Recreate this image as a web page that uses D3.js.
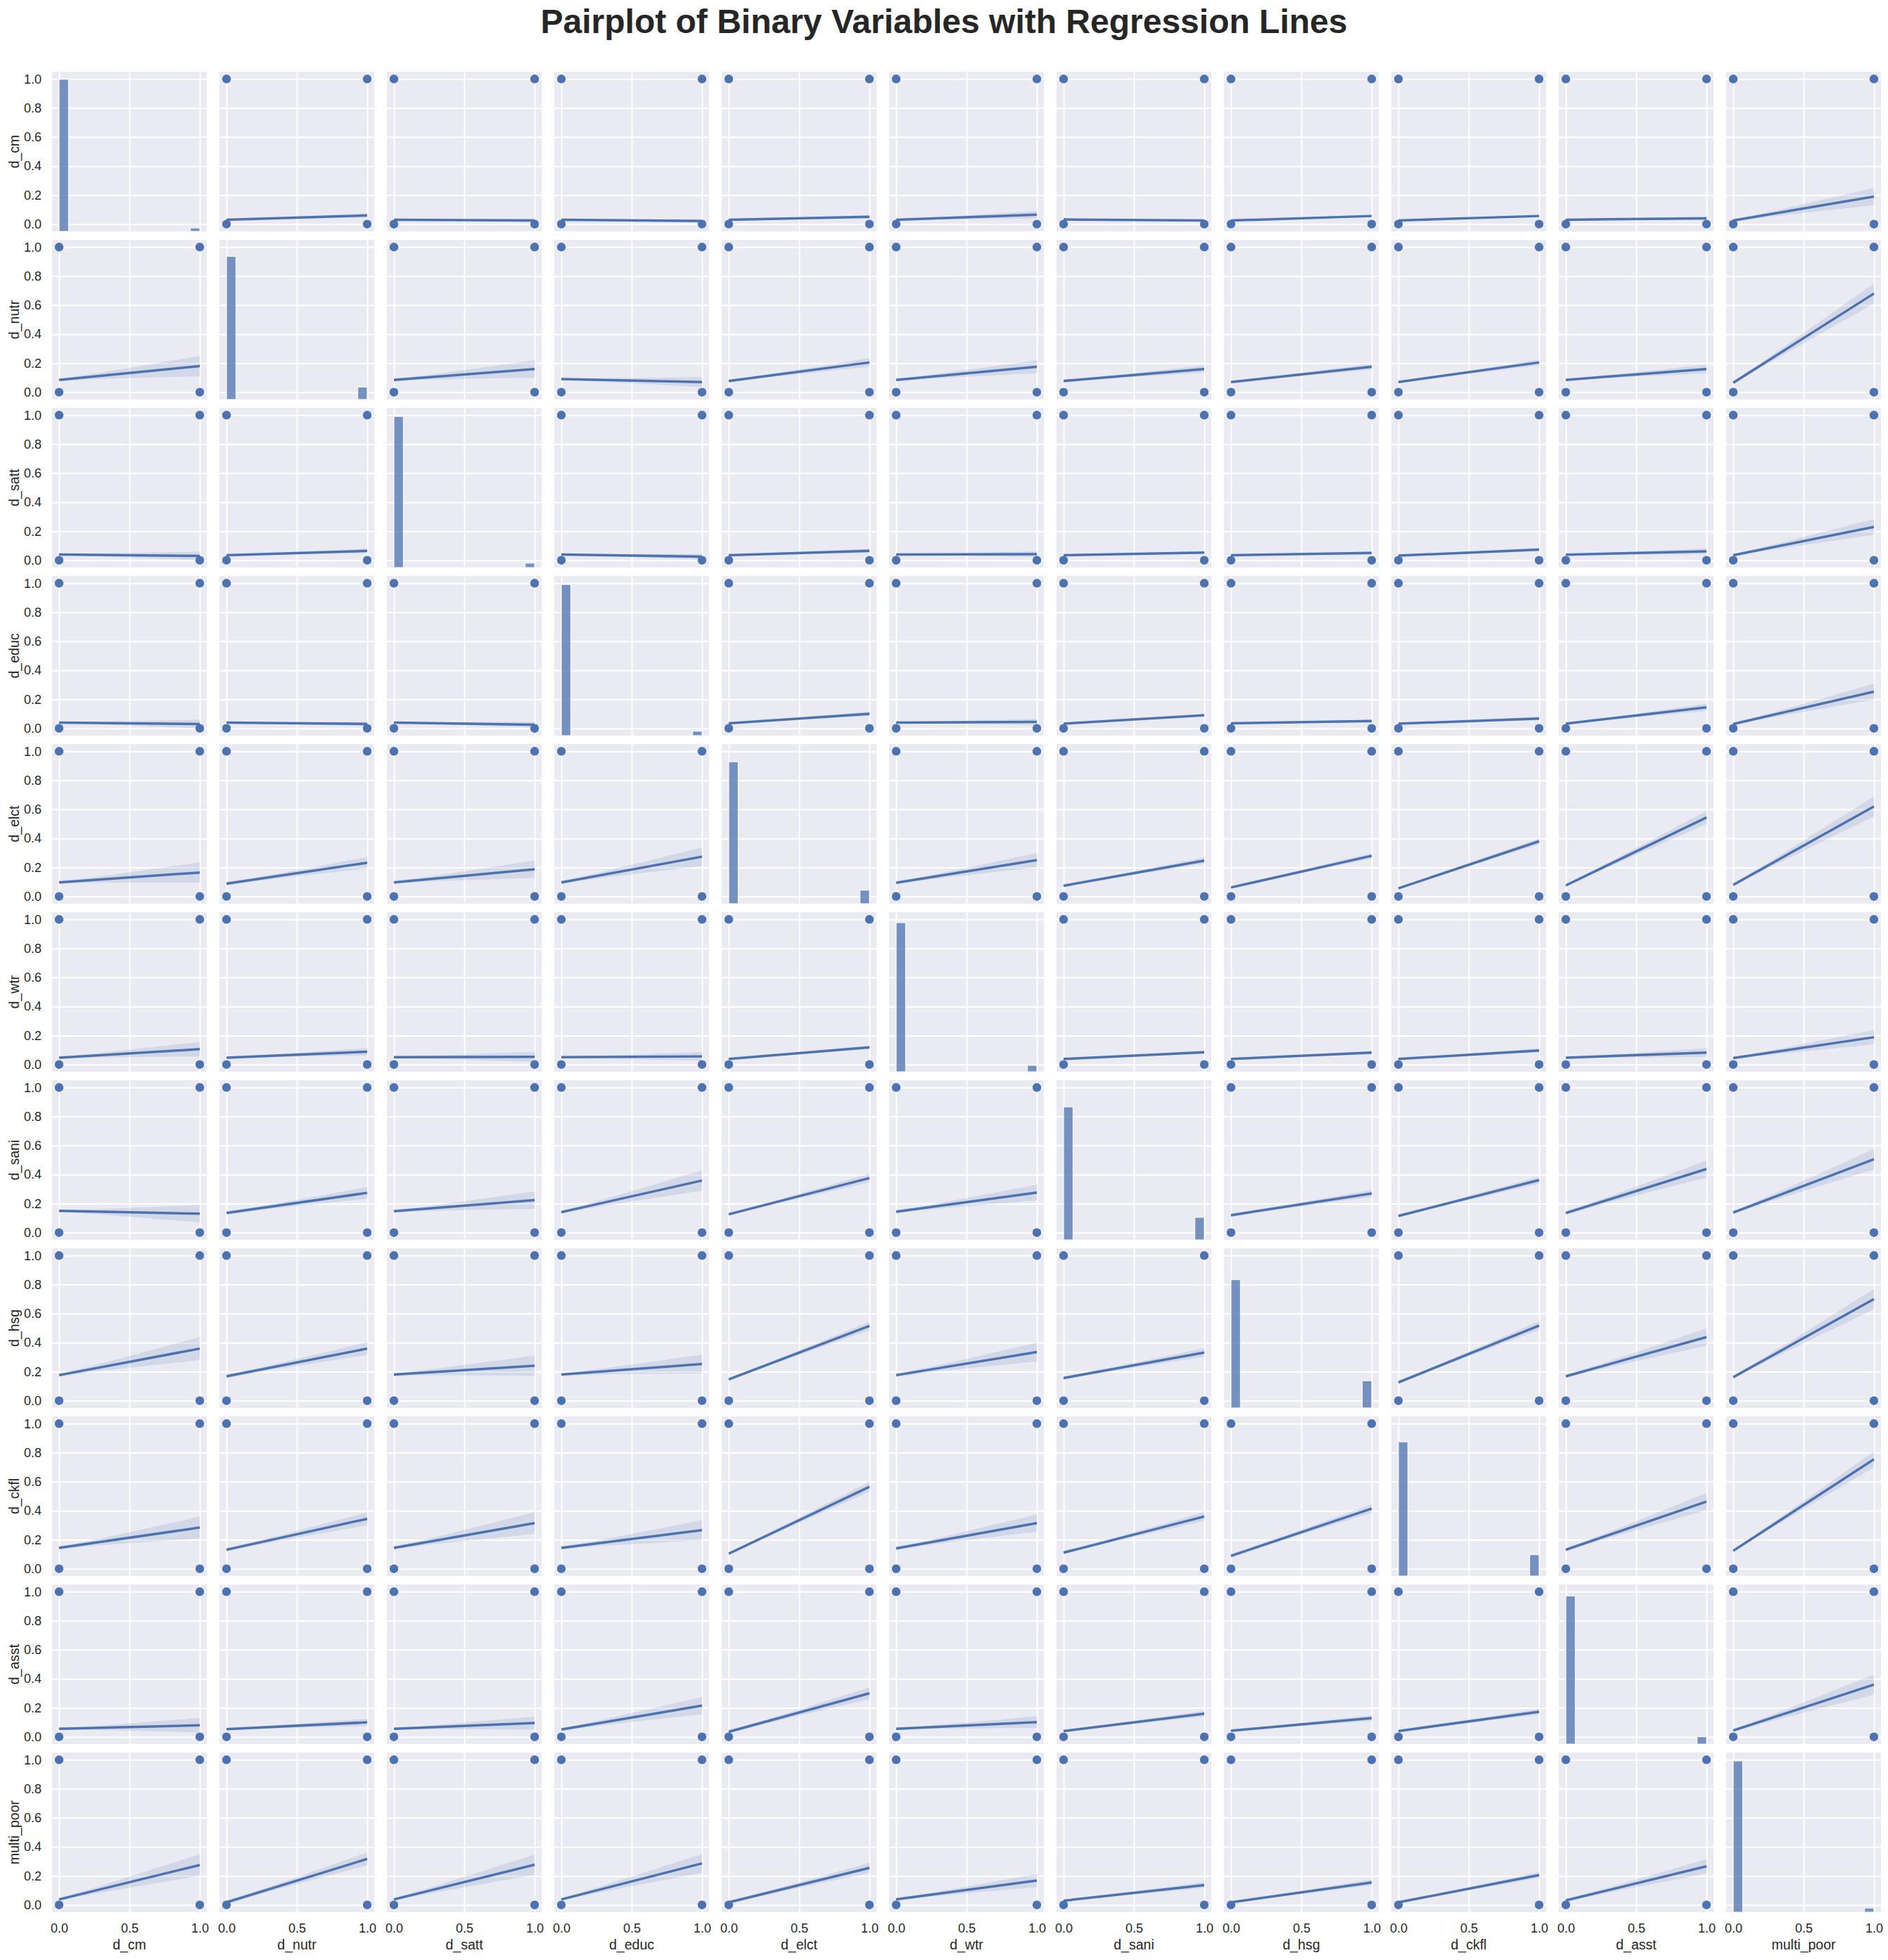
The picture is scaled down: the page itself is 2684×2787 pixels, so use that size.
<!DOCTYPE html>
<html>
<head>
<meta charset="utf-8">
<script src="https://cdn.jsdelivr.net/npm/d3@7"></script>
<style>
  html, body { margin: 0; padding: 0; background: #ffffff; }
  svg { display: block; }
  text { font-family: "Liberation Sans", Arial, "Helvetica", sans-serif; fill: #262626; }
</style>
</head>
<body>
<svg id="chart" width="2684" height="2787"></svg>
<script>
// ---------------- data ----------------
const variables = ["d_cm","d_nutr","d_satt","d_educ","d_elct","d_wtr","d_sani","d_hsg","d_ckfl","d_asst","multi_poor"];
// share of observations equal to 1 (diagonal histograms)
const shareOnes = [0.022, 0.080, 0.028, 0.028, 0.087, 0.041, 0.145, 0.175, 0.137, 0.047, 0.027];
const xTickValues = [0, 0.5, 1.0];
const yTickValues = [0, 0.2, 0.4, 0.6, 0.8, 1.0];
const histBins = 15;
const titleText = "Pairplot of Binary Variables with Regression Lines";

// regression line: fitted value at x = 0 (rows = y variable, columns = x variable)
const fitAtZero = [
  [null, 0.030, 0.030, 0.030, 0.030, 0.030, 0.032, 0.025, 0.025, 0.030, 0.025],
  [0.085, null, 0.085, 0.090, 0.077, 0.085, 0.077, 0.070, 0.070, 0.085, 0.065],
  [0.040, 0.035, null, 0.040, 0.035, 0.040, 0.035, 0.035, 0.032, 0.038, 0.035],
  [0.040, 0.040, 0.040, null, 0.035, 0.040, 0.032, 0.035, 0.032, 0.032, 0.030],
  [0.097, 0.088, 0.097, 0.097, null, 0.094, 0.074, 0.062, 0.056, 0.076, 0.080],
  [0.047, 0.047, 0.050, 0.050, 0.038, null, 0.038, 0.038, 0.038, 0.047, 0.044],
  [0.150, 0.135, 0.147, 0.141, 0.126, 0.144, null, 0.120, 0.115, 0.135, 0.138],
  [0.176, 0.168, 0.180, 0.180, 0.147, 0.176, 0.156, null, 0.126, 0.168, 0.162],
  [0.144, 0.131, 0.144, 0.144, 0.104, 0.140, 0.111, 0.089, null, 0.131, 0.124],
  [0.055, 0.053, 0.055, 0.051, 0.035, 0.055, 0.040, 0.042, 0.040, null, 0.044],
  [0.038, 0.018, 0.038, 0.038, 0.018, 0.038, 0.029, 0.018, 0.018, 0.031, null]
];
// regression line: fitted value at x = 1
const fitAtOne = [
  [null, 0.060, 0.025, 0.022, 0.050, 0.065, 0.025, 0.056, 0.056, 0.040, 0.190],
  [0.180, null, 0.160, 0.070, 0.205, 0.175, 0.160, 0.175, 0.205, 0.160, 0.680],
  [0.030, 0.065, null, 0.025, 0.065, 0.042, 0.053, 0.050, 0.074, 0.062, 0.230],
  [0.030, 0.030, 0.025, null, 0.100, 0.045, 0.090, 0.050, 0.068, 0.145, 0.253],
  [0.165, 0.232, 0.188, 0.274, null, 0.250, 0.247, 0.280, 0.380, 0.544, 0.620],
  [0.106, 0.088, 0.053, 0.056, 0.118, null, 0.085, 0.082, 0.097, 0.082, 0.188],
  [0.130, 0.274, 0.224, 0.359, 0.376, 0.276, null, 0.270, 0.362, 0.438, 0.506],
  [0.359, 0.359, 0.241, 0.253, 0.515, 0.335, 0.332, null, 0.518, 0.438, 0.700],
  [0.284, 0.344, 0.315, 0.266, 0.565, 0.315, 0.360, 0.415, null, 0.463, 0.754],
  [0.080, 0.100, 0.095, 0.215, 0.300, 0.102, 0.160, 0.129, 0.173, null, 0.360],
  [0.275, 0.317, 0.277, 0.286, 0.255, 0.168, 0.137, 0.155, 0.206, 0.266, null]
];
// half width of the confidence band at x = 1
const ciAtOne = [
  [null, 0.015, 0.012, 0.012, 0.012, 0.025, 0.008, 0.008, 0.008, 0.012, 0.060],
  [0.070, null, 0.060, 0.035, 0.030, 0.045, 0.025, 0.020, 0.020, 0.030, 0.070],
  [0.030, 0.015, null, 0.020, 0.015, 0.020, 0.010, 0.010, 0.012, 0.020, 0.055],
  [0.030, 0.015, 0.020, null, 0.015, 0.020, 0.010, 0.010, 0.012, 0.025, 0.055],
  [0.070, 0.040, 0.060, 0.065, null, 0.050, 0.022, 0.018, 0.020, 0.045, 0.070],
  [0.050, 0.025, 0.035, 0.030, 0.012, null, 0.012, 0.012, 0.014, 0.030, 0.050],
  [0.060, 0.040, 0.060, 0.070, 0.030, 0.055, null, 0.025, 0.025, 0.060, 0.070],
  [0.080, 0.045, 0.070, 0.065, 0.030, 0.065, 0.030, null, 0.030, 0.060, 0.070],
  [0.075, 0.045, 0.075, 0.070, 0.035, 0.060, 0.030, 0.030, null, 0.060, 0.055],
  [0.050, 0.025, 0.045, 0.060, 0.040, 0.040, 0.020, 0.020, 0.020, null, 0.070],
  [0.075, 0.045, 0.070, 0.065, 0.035, 0.045, 0.020, 0.020, 0.020, 0.050, null]
];

// ---------------- layout ----------------
const W = 2684, H = 2787;
const gridLeft = 74, gridTop = 102;
const cellW = 220, cellH = 227, stepX = 238, stepY = 239;
const blue = "#4c72b0";
const panelBg = "#eaeaf2";
const n = variables.length;
const tickFont = 18, labelFont = 19.5;

const svg = d3.select("#chart");
svg.append("rect").attr("width", W).attr("height", H).attr("fill", "#ffffff");

const x = d3.scaleLinear().domain([-0.05, 1.05]).range([0, cellW]);
const y = d3.scaleLinear().domain([-0.05, 1.05]).range([cellH, 0]);
const maxZeroShare = d3.max(shareOnes, p => 1 - p);
const yHist = d3.scaleLinear().domain([0, maxZeroShare * 1.05]).range([cellH, 0]);

const xEvalPoints = d3.range(0, 1.0001, 0.02);

for (let r = 0; r < n; r++) {
  for (let c = 0; c < n; c++) {
    const g = svg.append("g")
      .attr("transform", `translate(${gridLeft + c * stepX},${gridTop + r * stepY})`);
    g.append("rect").attr("width", cellW).attr("height", cellH).attr("fill", panelBg);

    // gridlines via axes
    const gx = g.append("g").attr("transform", `translate(0,${cellH})`)
      .call(d3.axisBottom(x).tickValues(xTickValues).tickSize(-cellH).tickFormat(""));
    const gy = g.append("g")
      .call(d3.axisLeft(y).tickValues(yTickValues).tickSize(-cellW).tickFormat(""));
    [gx, gy].forEach(a => {
      a.select(".domain").remove();
      a.selectAll(".tick line").attr("stroke", "#ffffff").attr("stroke-width", 2);
    });

    const clipId = `clip-${r}-${c}`;
    g.append("clipPath").attr("id", clipId)
      .append("rect").attr("width", cellW).attr("height", cellH);
    const plot = g.append("g").attr("clip-path", `url(#${clipId})`);

    if (r === c) {
      const p = shareOnes[c];
      const binW = 1 / histBins;
      const bars = [
        { x0: 0, x1: binW, v: 1 - p },
        { x0: 1 - binW, x1: 1, v: p }
      ];
      plot.selectAll("rect.bar").data(bars).enter().append("rect")
        .attr("class", "bar")
        .attr("x", d => x(d.x0))
        .attr("width", d => x(d.x1) - x(d.x0))
        .attr("y", d => yHist(d.v))
        .attr("height", d => cellH - yHist(d.v))
        .attr("fill", blue).attr("fill-opacity", 0.75)
        .attr("stroke", "#ffffff").attr("stroke-width", 1);
    } else {
      // scatter of binary values
      const pts = [[0, 0], [0, 1], [1, 0], [1, 1]];
      plot.selectAll("circle").data(pts).enter().append("circle")
        .attr("cx", d => x(d[0])).attr("cy", d => y(d[1]))
        .attr("r", 6.2).attr("fill", blue);

      const a = fitAtZero[r][c], b = fitAtOne[r][c] - fitAtZero[r][c];
      const hw1 = ciAtOne[r][c];
      const px = shareOnes[c];
      const band = xEvalPoints.map(t => {
        const f = a + b * t;
        const hw = hw1 * Math.sqrt(px + (t - px) * (t - px) / (1 - px));
        return { t, lo: f - hw, hi: f + hw };
      });
      plot.append("path").datum(band)
        .attr("d", d3.area().x(d => x(d.t)).y0(d => y(d.lo)).y1(d => y(d.hi)))
        .attr("fill", blue).attr("fill-opacity", 0.15);
      plot.append("path").datum([0, 1])
        .attr("d", d3.line().x(t => x(t)).y(t => y(a + b * t)))
        .attr("fill", "none").attr("stroke", blue).attr("stroke-width", 3.5)
        .attr("stroke-linecap", "butt");
    }

    // tick labels on outer panels
    if (c === 0) {
      const ay = g.append("g")
        .call(d3.axisLeft(y).tickValues(yTickValues).tickSize(0).tickPadding(15)
          .tickFormat(d3.format(".1f")));
      ay.select(".domain").remove();
      ay.selectAll("text").attr("font-size", tickFont).attr("fill", "#262626")
        .style("font-family", '"Liberation Sans", Arial, sans-serif');
      g.append("text")
        .attr("transform", `translate(-47,${cellH / 2}) rotate(-90)`)
        .attr("text-anchor", "middle")
        .attr("font-size", labelFont)
        .text(variables[r]);
    }
    if (r === n - 1) {
      const ax = g.append("g").attr("transform", `translate(0,${cellH})`)
        .call(d3.axisBottom(x).tickValues(xTickValues).tickSize(0).tickPadding(16)
          .tickFormat(d3.format(".1f")));
      ax.select(".domain").remove();
      ax.selectAll("text").attr("font-size", tickFont).attr("fill", "#262626")
        .style("font-family", '"Liberation Sans", Arial, sans-serif');
      g.append("text")
        .attr("x", cellW / 2).attr("y", cellH + 53)
        .attr("text-anchor", "middle")
        .attr("font-size", labelFont)
        .text(variables[c]);
    }
  }
}

svg.append("text")
  .attr("x", W / 2).attr("y", 47)
  .attr("text-anchor", "middle")
  .attr("font-size", 48).attr("font-weight", "bold")
  .text(titleText);
</script>
</body>
</html>
